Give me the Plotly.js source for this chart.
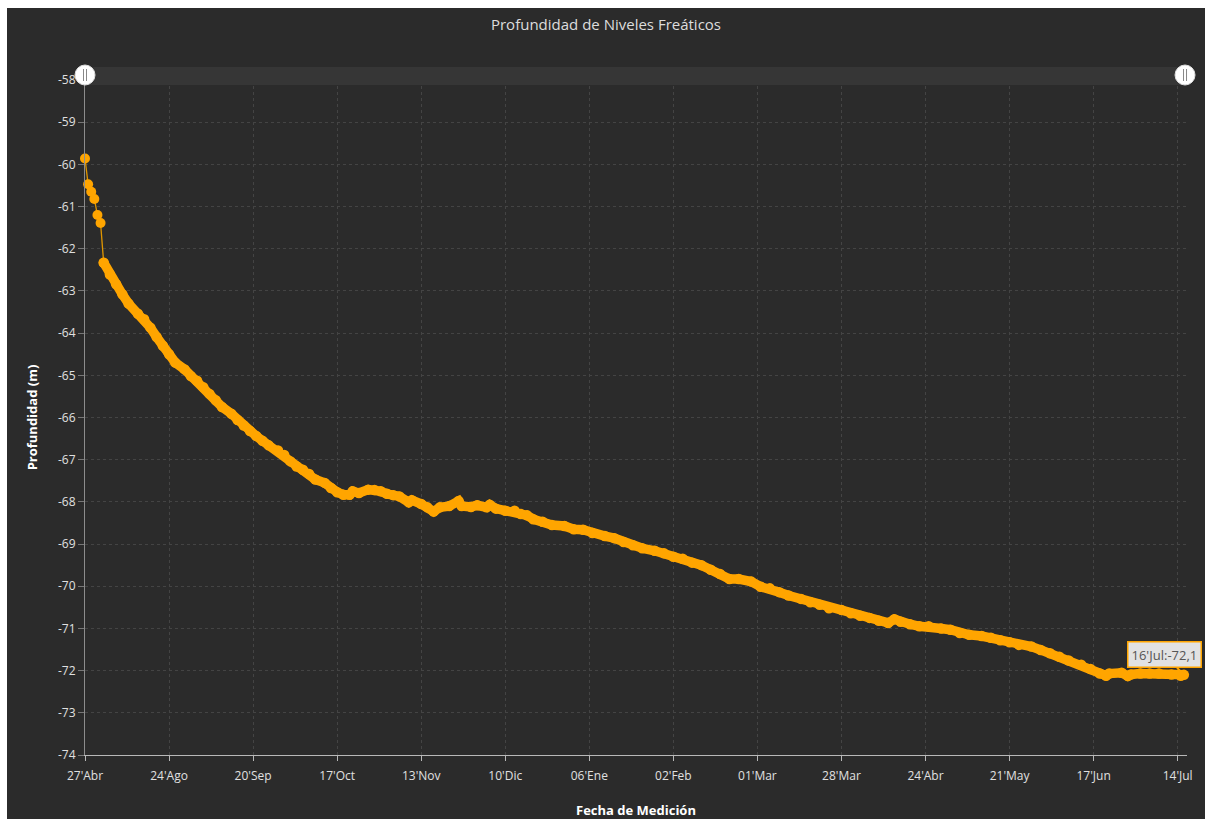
<!DOCTYPE html>
<html>
<head>
<meta charset="utf-8">
<script src="https://cdn.plot.ly/plotly-3.0.1.min.js"></script>
<style>
  html, body { margin: 0; padding: 0; background: #ffffff; }
  #chart { position: absolute; left: 7px; top: 8px; width: 1198px; height: 811px; }
</style>
</head>
<body>
<div id="chart"></div>
<script>
// Day offset from axis start (tick "27'Abr" at 0, one tick every 27 days)
const dias = [0,1,2,3,4,5,6,8,10,12,14,17,19,21,23,25,27,29,32,34,36,38,40,42,44,47,49,51,53,55,57,59,62,64,66,68,70,72,74,77,79,81,83,85,86,88,91,93,95,97,99,
  101,104,105,108,110,112,114,117,120,121,124,126,129,130,132,135,138,140,142,144,147,150,154,157,160,163,167,170,173,176,179,183,186,189,192,195,
  198,201,204,207,210,214,217,220,223,226,230,233,236,239,243,246,249,252,255,258,260,262,265,268,271,275,278,281,284,288,291,
  294,297,300,304,307,310,313,316,320,323,326,328,329,333,335,336,339,342,345,349,352,353];
const profundidad = [-59.86,-60.47,-60.65,-60.82,-61.20,-61.39,-62.33,-62.61,-62.84,-63.08,-63.30,-63.54,-63.67,-63.87,-64.09,-64.30,-64.50,-64.70,-64.86,-65.02,-65.13,-65.28,-65.44,-65.59,-65.75,-65.91,-66.06,-66.19,-66.32,-66.44,-66.55,-66.66,-66.78,-66.89,-67.04,-67.16,-67.24,-67.34,-67.47,-67.55,-67.67,-67.77,-67.83,-67.83,-67.75,-67.79,-67.71,-67.72,-67.75,-67.81,-67.84,
  -67.87,-68.01,-67.96,-68.05,-68.13,-68.23,-68.13,-68.10,-67.98,-68.10,-68.12,-68.08,-68.13,-68.07,-68.16,-68.21,-68.21,-68.29,-68.32,-68.41,-68.47,-68.55,-68.57,-68.65,-68.66,-68.74,-68.81,-68.86,-68.95,-69.03,-69.10,-69.16,-69.22,-69.30,-69.35,-69.44,
  -69.50,-69.61,-69.71,-69.83,-69.83,-69.89,-70.01,-70.05,-70.14,-70.22,-70.30,-70.38,-70.44,-70.52,-70.56,-70.64,-70.70,-70.75,-70.82,-70.87,-70.78,-70.84,-70.90,-70.95,-70.95,-71.00,-71.03,-71.11,-71.15,-71.18,-71.22,
  -71.28,-71.33,-71.39,-71.43,-71.51,-71.59,-71.67,-71.76,-71.86,-71.96,-72.07,-72.12,-72.07,-72.05,-72.13,-72.09,-72.07,-72.07,-72.07,-72.09,-72.12,-72.10];

// first readings are sparse (thin connecting line), the rest is continuous (dense band)
const inicioContinuo = 6;

const xTickVals = [0,27,54,81,108,135,162,189,216,243,270,297,324,351];
const xTickText = ["27'Abr","24'Ago","20'Sep","17'Oct","13'Nov","10'Dic","06'Ene","02'Feb","01'Mar","28'Mar","24'Abr","21'May","17'Jun","14'Jul"];
const yTickVals = [-74,-73,-72,-71,-70,-69,-68,-67,-66,-65,-64,-63,-62,-61,-60,-59,-58];
const yTickText = ["-74","-73","-72","-71","-70","-69","-68","-67","-66","-65","-64","-63","-62","-61","-60","-59","-58"];
const ultimaEtiqueta = "16'Jul:-72,1";

const FONT = "'Open Sans', sans-serif";
const BG = '#2b2b2b';
const ORANGE = '#ffa500';

const traceInicial = {
  type: 'scatter',
  mode: 'lines+markers',
  x: dias.slice(0, inicioContinuo + 1),
  y: profundidad.slice(0, inicioContinuo + 1),
  line: { color: '#e09600', width: 1.3 },
  marker: { color: ORANGE, size: 10 },
  cliponaxis: false,
  hoverinfo: 'none'
};

const traceContinuo = {
  type: 'scatter',
  mode: 'lines+markers',
  x: dias.slice(inicioContinuo),
  y: profundidad.slice(inicioContinuo),
  line: { color: ORANGE, width: 9.5 },
  marker: { color: ORANGE, size: 10.5 },
  cliponaxis: false,
  hoverinfo: 'none'
};

const n = dias.length - 1;

const layout = {
  width: 1198,
  height: 811,
  paper_bgcolor: BG,
  plot_bgcolor: BG,
  margin: { l: 78, r: 18, t: 72, b: 64 },
  showlegend: false,
  font: { family: FONT, color: '#dddddd', size: 12 },
  title: {
    text: 'Profundidad de Niveles Freáticos',
    font: { family: FONT, size: 15, color: '#dddddd' },
    x: 0.5, xanchor: 'center',
    yref: 'container', y: 0.979, yanchor: 'middle'
  },
  xaxis: {
    range: [0, 354],
    tickvals: xTickVals,
    ticktext: xTickText,
    showgrid: true,
    gridcolor: '#444444',
    griddash: '3px,3px',
    gridwidth: 1,
    zeroline: false,
    showline: true,
    linecolor: '#b8b8b8',
    linewidth: 1,
    ticks: 'outside',
    ticklen: 5,
    tickcolor: '#b8b8b8',
    ticklabelstandoff: 5,
    tickfont: { family: FONT, size: 12, color: '#e0e0e0' },
    title: { text: '<b>Fecha de Medición</b>', font: { family: FONT, size: 13, color: '#ffffff' }, standoff: 31 },
    fixedrange: true
  },
  yaxis: {
    range: [-74, -58],
    tickvals: yTickVals,
    ticktext: yTickText,
    showgrid: true,
    gridcolor: '#444444',
    griddash: '3px,3px',
    gridwidth: 1,
    zeroline: false,
    showline: true,
    linecolor: '#8c8c8c',
    linewidth: 1,
    ticks: 'outside',
    ticklen: 6,
    tickcolor: '#777777',
    tickfont: { family: FONT, size: 12, color: '#e0e0e0' },
    title: { text: '<b>Profundidad (m)</b>', font: { family: FONT, size: 13, color: '#ffffff' }, standoff: 17 },
    fixedrange: true
  },
  shapes: [
    { type: 'rect', xref: 'paper', yref: 'paper', x0: 0, x1: 0.9982, y0: 0.9926, y1: 1.0193,
      fillcolor: '#363636', line: { width: 0 }, layer: 'above' },
    { type: 'circle', xref: 'paper', yref: 'paper', xsizemode: 'pixel', ysizemode: 'pixel',
      xanchor: 0, yanchor: 1.0074, x0: -10, x1: 10, y0: -10, y1: 10,
      fillcolor: '#ffffff', line: { color: '#dddddd', width: 1 }, layer: 'above' },
    { type: 'line', xref: 'paper', yref: 'paper', xsizemode: 'pixel', ysizemode: 'pixel',
      xanchor: 0, yanchor: 1.0074, x0: -1.5, x1: -1.5, y0: -6, y1: 6, line: { color: '#888888', width: 1 }, layer: 'above' },
    { type: 'line', xref: 'paper', yref: 'paper', xsizemode: 'pixel', ysizemode: 'pixel',
      xanchor: 0, yanchor: 1.0074, x0: 1.5, x1: 1.5, y0: -6, y1: 6, line: { color: '#888888', width: 1 }, layer: 'above' },
    { type: 'circle', xref: 'paper', yref: 'paper', xsizemode: 'pixel', ysizemode: 'pixel',
      xanchor: 0.9982, yanchor: 1.0074, x0: -10, x1: 10, y0: -10, y1: 10,
      fillcolor: '#ffffff', line: { color: '#dddddd', width: 1 }, layer: 'above' },
    { type: 'line', xref: 'paper', yref: 'paper', xsizemode: 'pixel', ysizemode: 'pixel',
      xanchor: 0.9982, yanchor: 1.0074, x0: -1.5, x1: -1.5, y0: -6, y1: 6, line: { color: '#888888', width: 1 }, layer: 'above' },
    { type: 'line', xref: 'paper', yref: 'paper', xsizemode: 'pixel', ysizemode: 'pixel',
      xanchor: 0.9982, yanchor: 1.0074, x0: 1.5, x1: 1.5, y0: -6, y1: 6, line: { color: '#888888', width: 1 }, layer: 'above' }
  ],
  annotations: [
    { x: dias[n], y: profundidad[n], xref: 'x', yref: 'y',
      text: ultimaEtiqueta,
      showarrow: true, ax: -19, ay: -20, arrowhead: 0, arrowwidth: 2, arrowcolor: ORANGE, standoff: 0,
      bgcolor: '#e2e2e2', bordercolor: ORANGE, borderwidth: 1.5, borderpad: 3,
      font: { family: FONT, size: 13, color: '#555555' } }
  ]
};

Plotly.newPlot('chart', [traceInicial, traceContinuo], layout, { displayModeBar: false, staticPlot: true });
</script>
</body>
</html>
